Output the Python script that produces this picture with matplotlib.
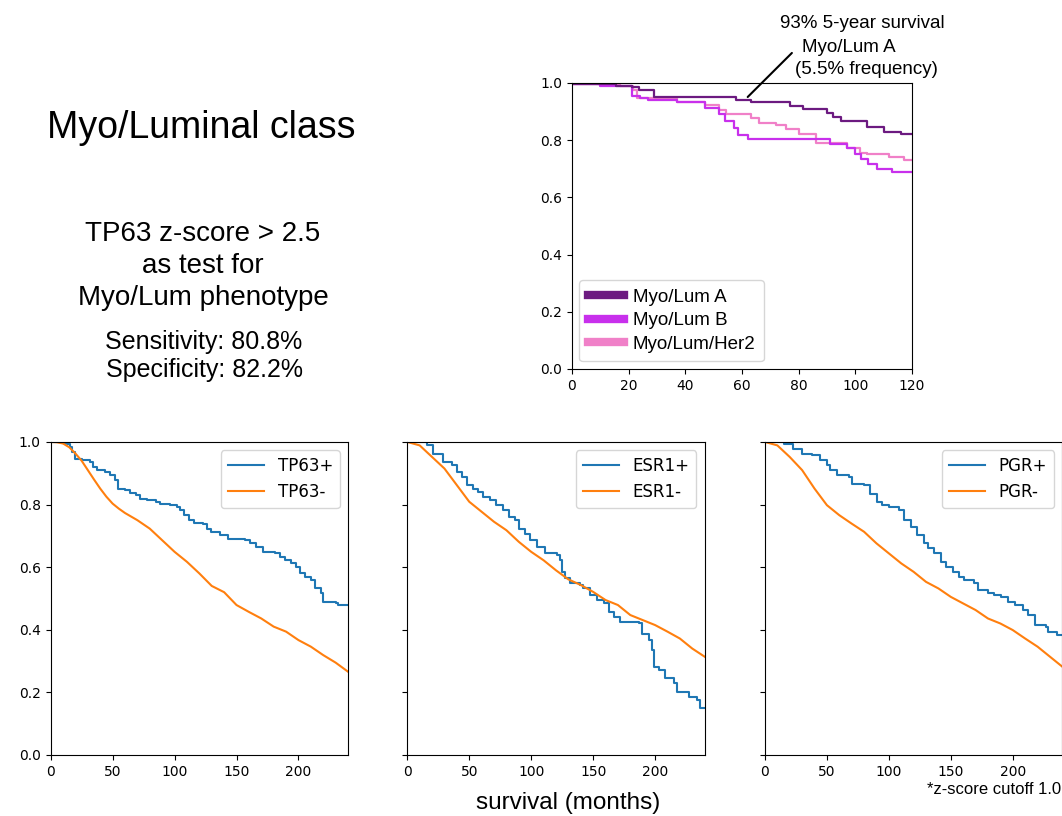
import matplotlib.pyplot as plt
from matplotlib.lines import Line2D

# ---- top panel: Myo/Lum subgroups (months, survival) ----
lumA_t = [0, 15.5, 21, 23.5, 29, 58, 63, 77, 81.5, 90, 92, 95, 104, 110, 116, 120]
lumA_s = [0.995, 0.99, 0.985, 0.975, 0.95, 0.94, 0.933, 0.921, 0.91, 0.895, 0.88, 0.866, 0.845, 0.83, 0.82, 0.82]

lumB_t = [0, 10, 21, 24, 26.7, 37, 47, 52, 54, 57, 58.5, 62, 91, 97, 100, 102, 104.5, 107.5, 113, 120]
lumB_s = [0.995, 0.99, 0.953, 0.948, 0.942, 0.933, 0.913, 0.89, 0.866, 0.843, 0.817, 0.805, 0.785,
          0.773, 0.75, 0.733, 0.715, 0.70, 0.688, 0.688]

her2_t = [0, 17, 21.4, 23, 37, 47, 52, 54.4, 63, 66, 72, 75.6, 80, 86, 97, 101.5, 104, 112, 117, 120]
her2_s = [0.995, 0.988, 0.977, 0.948, 0.933, 0.924, 0.907, 0.89, 0.878, 0.86, 0.852, 0.84, 0.82,
          0.79, 0.773, 0.756, 0.75, 0.74, 0.73, 0.73]

# ---- bottom panels: marker +/- ----
tp63_pos_t = [0, 9, 13, 15.6, 17, 19.6, 25, 31.7, 34, 37, 44, 48, 52, 54.6, 60, 64, 69, 72, 77.4, 85,
              88, 96, 101.6, 104, 108, 112, 116, 123, 126, 129.8, 136.5, 143, 157, 160.8, 166, 171.5,
              181, 185, 189, 194, 198, 201, 205, 210, 213, 218.5, 220, 230.6, 232, 240]
tp63_pos_s = [1.0, 0.997, 0.995, 0.984, 0.968, 0.947, 0.941, 0.936, 0.92, 0.91, 0.904, 0.894, 0.878,
              0.851, 0.846, 0.837, 0.83, 0.819, 0.814, 0.809, 0.803, 0.798, 0.793, 0.782, 0.766, 0.75,
              0.741, 0.737, 0.723, 0.713, 0.702, 0.691, 0.686, 0.676, 0.665, 0.649, 0.644, 0.633, 0.622,
              0.612, 0.601, 0.58, 0.569, 0.559, 0.532, 0.516, 0.489, 0.484, 0.479, 0.479]
tp63_neg_t = [0, 5, 10, 15, 20, 25, 30, 35, 40, 45, 50, 55, 60, 70, 80, 90, 100, 110, 120, 130, 140,
              150, 160, 170, 180, 190, 200, 210, 220, 230, 240]
tp63_neg_s = [1.0, 0.999, 0.995, 0.983, 0.963, 0.94, 0.91, 0.88, 0.851, 0.825, 0.803, 0.787, 0.773,
              0.75, 0.723, 0.686, 0.649, 0.617, 0.58, 0.54, 0.52, 0.479, 0.457, 0.436, 0.41, 0.394,
              0.367, 0.346, 0.319, 0.295, 0.266]

esr1_pos_t = [0, 12, 15.6, 21, 29, 36, 40, 44, 48, 53, 57, 61.5, 67, 72, 77.6, 81.7, 87, 90, 95, 99,
              104.6, 111, 121, 123.5, 125, 127.5, 131.5, 139.6, 142, 147.7, 153, 158.5, 162.5, 166.6,
              172, 186.8, 189.5, 195, 197.6, 199, 203, 208, 215, 218, 227, 234, 236.6, 240]
esr1_pos_s = [1.0, 1.0, 0.989, 0.963, 0.936, 0.926, 0.904, 0.888, 0.862, 0.851, 0.84, 0.824, 0.814,
              0.798, 0.782, 0.761, 0.75, 0.723, 0.707, 0.686, 0.665, 0.644, 0.638, 0.622, 0.585, 0.564,
              0.548, 0.543, 0.532, 0.511, 0.495, 0.484, 0.457, 0.441, 0.426, 0.42, 0.388, 0.367, 0.335,
              0.282, 0.271, 0.245, 0.229, 0.202, 0.186, 0.176, 0.149, 0.149]
esr1_neg_t = [0, 10, 20, 30, 40, 50, 60, 70, 80, 90, 100, 110, 120, 130, 140, 150, 160, 170, 180, 190,
              200, 210, 220, 230, 240]
esr1_neg_s = [1.0, 0.989, 0.952, 0.915, 0.862, 0.809, 0.777, 0.745, 0.718, 0.681, 0.649, 0.622, 0.59,
              0.561, 0.543, 0.521, 0.495, 0.479, 0.447, 0.431, 0.415, 0.394, 0.372, 0.34, 0.314]

pgr_pos_t = [0, 15, 23, 30, 38, 44.6, 50, 52.8, 58, 67.6, 70, 80, 85, 90.6, 94.7, 100, 108, 112, 118,
             123, 128.5, 131.2, 136.6, 142, 146, 151.5, 157, 161, 169, 171.8, 180, 185, 190.7, 196,
             201.6, 208, 212, 218, 227, 228.6, 235.5, 240]
pgr_pos_s = [1.0, 0.995, 0.979, 0.963, 0.957, 0.941, 0.926, 0.91, 0.894, 0.888, 0.867, 0.862, 0.835,
             0.809, 0.798, 0.793, 0.782, 0.75, 0.729, 0.702, 0.676, 0.66, 0.644, 0.617, 0.601, 0.585,
             0.569, 0.559, 0.548, 0.527, 0.516, 0.511, 0.505, 0.489, 0.479, 0.463, 0.447, 0.415, 0.41,
             0.394, 0.383, 0.383]
pgr_neg_t = [0, 10, 20, 30, 40, 50, 60, 70, 80, 90, 100, 110, 120, 130, 140, 150, 160, 170, 180, 190,
             200, 210, 220, 230, 240]
pgr_neg_s = [1.0, 0.989, 0.952, 0.91, 0.851, 0.798, 0.766, 0.739, 0.713, 0.676, 0.644, 0.612, 0.585,
             0.553, 0.532, 0.505, 0.484, 0.463, 0.436, 0.42, 0.399, 0.372, 0.346, 0.314, 0.282]

SANS = ['Liberation Sans', 'DejaVu Sans']
W, H = 1062, 816

fig = plt.figure(figsize=(10.62, 8.16), dpi=100)

# text block on the left
fig.text(201 / W, 1 - 128 / H, "Myo/Luminal class", ha='center', va='center', fontsize=27, family=SANS)
fig.text(203 / W, 1 - 266 / H, "TP63 z-score > 2.5\nas test for\nMyo/Lum phenotype", ha='center',
         va='center', fontsize=20, family=SANS, linespacing=1.32)
fig.text(204 / W, 1 - 356 / H, "Sensitivity: 80.8%\nSpecificity: 82.2%", ha='center', va='center',
         fontsize=18, family=SANS, linespacing=1.2)

# top km plot
ax = fig.add_axes([0.5386, 0.5478, 0.3202, 0.3505])
colA, colB, colH = '#6c1a80', '#c830ec', '#f080c8'
ax.step(her2_t, her2_s, where='post', color=colH, lw=1.6)
ax.step(lumB_t, lumB_s, where='post', color=colB, lw=1.6)
ax.step(lumA_t, lumA_s, where='post', color=colA, lw=1.6)
ax.set_xlim(0, 120)
ax.set_ylim(0, 1.0)
ax.set_xticks([0, 20, 40, 60, 80, 100, 120])
ax.set_yticks([0, 0.2, 0.4, 0.6, 0.8, 1.0])
handles = [Line2D([], [], color=c, lw=6) for c in (colA, colB, colH)]
leg = ax.legend(handles, ["Myo/Lum A", "Myo/Lum B", "Myo/Lum/Her2"], loc='lower left',
                prop={'family': SANS, 'size': 13.5}, handlelength=1.9, handletextpad=0.5,
                labelspacing=0.35, borderaxespad=0.4, borderpad=0.45)

# annotation for Myo/Lum A
ax.annotate("", xy=(62, 0.951), xytext=(77.6, 1.105), annotation_clip=False,
            arrowprops=dict(arrowstyle='-', color='black', lw=1.5, shrinkA=0, shrinkB=0))
fig.text(862 / W, 1 - 23 / H, "93% 5-year survival", ha='center', va='center', fontsize=13.5, family=SANS)
fig.text(849 / W, 1 - 48 / H, "Myo/Lum A", ha='center', va='center', fontsize=13.5, family=SANS)
fig.text(866 / W, 1 - 70 / H, "(5.5% frequency)", ha='center', va='center', fontsize=13.5, family=SANS)

# bottom row
panels = [
    ("TP63", tp63_pos_t, tp63_pos_s, tp63_neg_t, tp63_neg_s, 0.0477),
    ("ESR1", esr1_pos_t, esr1_pos_s, esr1_neg_t, esr1_neg_s, 0.3835),
    ("PGR", pgr_pos_t, pgr_pos_s, pgr_neg_t, pgr_neg_s, 0.7203),
]
for i, (name, pt, ps, nt, ns, left) in enumerate(panels):
    a = fig.add_axes([left, 0.0748, 0.2800, 0.3836])
    a.step(pt, ps, where='post', color='tab:blue', lw=1.5, label=name + "+")
    a.plot(nt, ns, color='tab:orange', lw=1.5, label=name + "-")
    a.set_xlim(0, 240)
    a.set_ylim(0, 1.0)
    a.set_xticks([0, 50, 100, 150, 200])
    a.set_yticks([0, 0.2, 0.4, 0.6, 0.8, 1.0])
    if i > 0:
        a.set_yticklabels([])
    a.legend(loc='upper right', fontsize=12, handlelength=2.2)

fig.text(568 / W, 1 - 803 / H, "survival (months)", ha='center', va='center', fontsize=17.5, family=SANS)
fig.text(0.999, 1 - 790 / H, "*z-score cutoff 1.0", ha='right', va='center', fontsize=12, family=SANS)

fig.savefig("out.png", dpi=100)
